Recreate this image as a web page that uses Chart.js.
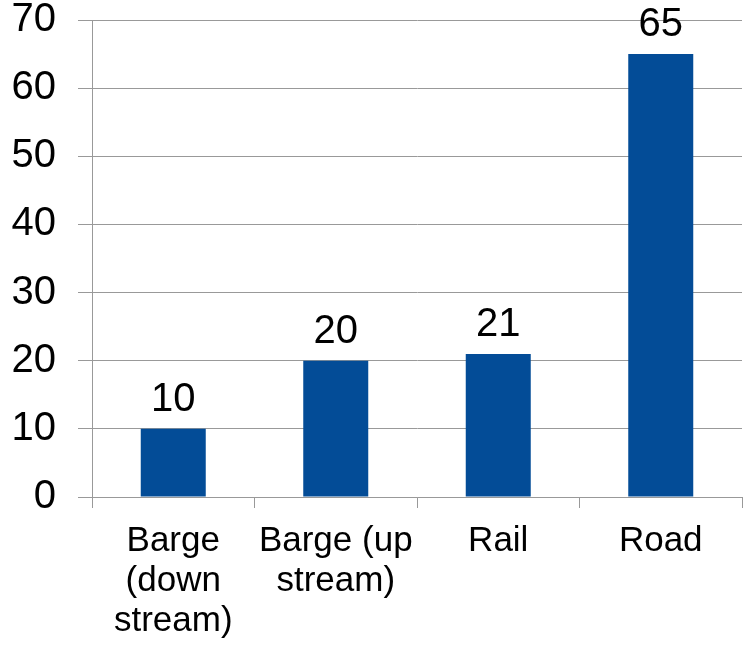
<!DOCTYPE html>
<html>
<head>
<meta charset="utf-8">
<script src="https://cdn.jsdelivr.net/npm/chart.js@4"></script>
<style>
  html, body { margin: 0; padding: 0; background: #fff; }
  #wrap { width: 744px; height: 645px; }
</style>
</head>
<body>
<div id="wrap"><canvas id="mycanvas" width="744" height="645"></canvas></div>
<script>
var categories = [["Barge", "(down", "stream)"], ["Barge (up", "stream)"], ["Rail"], ["Road"]];
var values = [10, 20, 21, 65];
var yTicks = [0, 10, 20, 30, 40, 50, 60, 70];

var valueLabels = {
	id: "valueLabels",
	afterDatasetsDraw: function(chart) {
		var ctx = chart.ctx;
		var meta = chart.getDatasetMeta(0);
		ctx.save();
		ctx.font = "40px 'Liberation Sans', Arial, sans-serif";
		ctx.fillStyle = "#000";
		ctx.textAlign = "center";
		ctx.textBaseline = "alphabetic";
		meta.data.forEach(function(bar, i) {
			ctx.fillText(String(values[i]), bar.x, bar.y - 18);
		});
		ctx.restore();
	}
};

var ctx = document.getElementById("mycanvas");

var chartdata = {
	labels: categories,
	datasets: [
		{
			data: values,
			backgroundColor: "#034C97",
			borderWidth: 0,
			barPercentage: 0.4,
			categoryPercentage: 1.0
		}
	]
};

var new_chart = new Chart(ctx, {
	type: "bar",
	data: chartdata,
	plugins: [valueLabels],
	options: {
		responsive: false,
		animation: false,
		layout: { padding: { top: 20, right: 2, left: 0, bottom: 0 } },
		plugins: {
			legend: { display: false },
			tooltip: { enabled: false }
		},
		scales: {
			x: {
				grid: {
					color: "#999",
					drawOnChartArea: false,
					drawTicks: true,
					tickLength: 11,
					offset: true
				},
				border: { color: "#999" },
				ticks: {
					color: "#000",
					font: { family: "'Liberation Sans', Arial, sans-serif", size: 35, lineHeight: 1.15 },
					padding: 13,
					maxRotation: 0,
					autoSkip: false
				},
				afterFit: function(scale) {
					scale.height = 148;
					scale.paddingLeft = 0;
					scale.paddingRight = 0;
				}
			},
			y: {
				min: 0,
				max: 70,
				afterBuildTicks: function(scale) {
					scale.ticks = yTicks.map(function(v) { return { value: v }; });
				},
				grid: {
					color: "#999",
					tickLength: 14
				},
				border: { color: "#999" },
				ticks: {
					color: "#000",
					font: { family: "'Liberation Sans', Arial, sans-serif", size: 40 },
					padding: 22
				},
				afterFit: function(scale) {
					scale.width = 92;
					scale.paddingTop = 0;
					scale.paddingBottom = 0;
				}
			}
		}
	}
});
</script>
</body>
</html>
